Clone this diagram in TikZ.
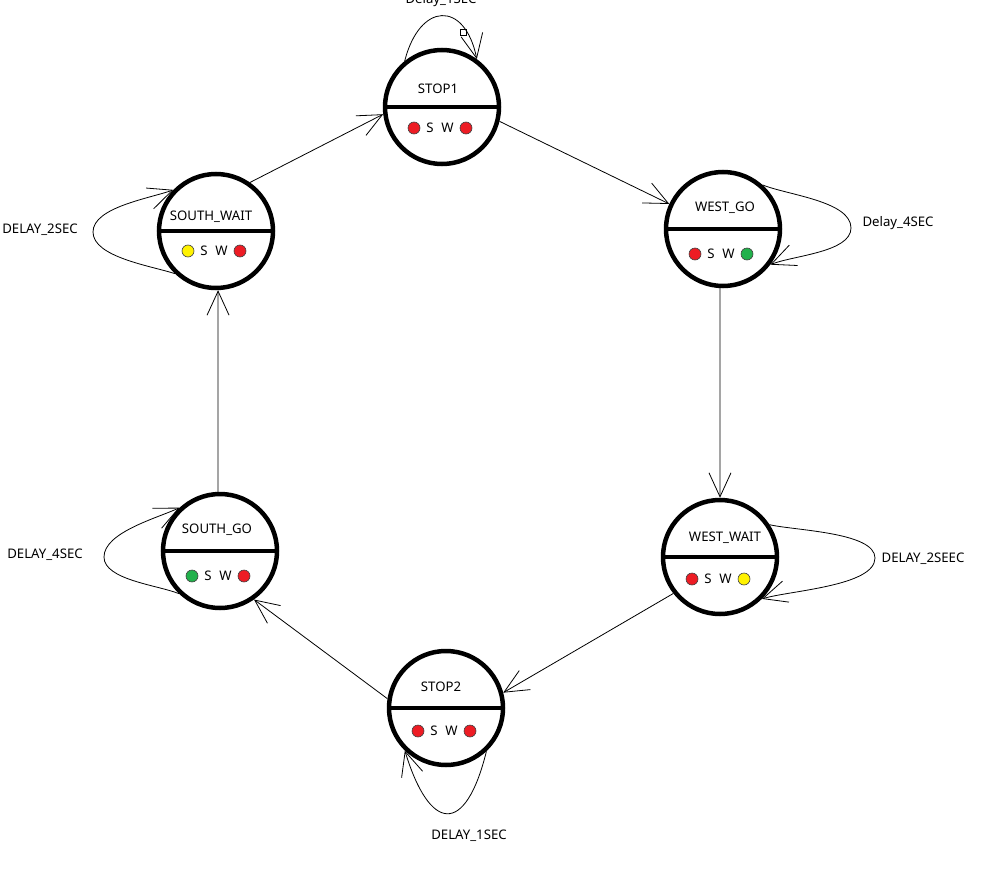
\documentclass[tikz,border=0pt]{standalone}
\usepackage{fontspec}
\setmainfont{Noto Sans}
\usetikzlibrary{arrows.meta}

\definecolor{lampred}{RGB}{237,28,36}
\definecolor{lampgreen}{RGB}{34,177,76}
\definecolor{lampyellow}{RGB}{255,242,0}

\tikzset{
  fsm/.style={circle, draw=black, line width=4.5pt, minimum size=114pt, inner sep=0pt},
  divider/.style={line width=4.5pt},
  txt/.style={font=\fontsize{13.2}{15}\selectfont, inner sep=0pt},
  lamp/.style={circle, draw=black!75, line width=0.6pt, minimum size=12pt, inner sep=0pt},
  trans/.style={line width=0.8pt, -{Straight Barb[length=24pt,width=22pt,line width=0.8pt]}},
}

% one traffic-light state:
% name, x, y, caption, south lamp, west lamp, caption dx, caption dy, lamp row dy
\newcommand\fsmstate[9]{%
  \node[fsm] (#1) at (#2,#3) {};
  \draw[divider] (#1.west) -- (#1.east);
  \node[txt] (#1-name) at ({#2+#7},{#3+#8}) {#4};
  \node[lamp, fill=#5] (#1-s) at ({#2-28},{#3+#9}) {};
  \node[txt] (#1-sl) at ({#2-12},{#3+#9}) {S};
  \node[txt] (#1-wl) at ({#2+5.5},{#3+#9}) {W};
  \node[lamp, fill=#6] (#1-w) at ({#2+24},{#3+#9}) {};
}

\begin{document}
\begin{tikzpicture}[x=1pt,y=-1pt]
  \useasboundingbox (0,0) rectangle (991,870);

  % states
  \fsmstate{s1}{442}{107}{STOP1}{lampred}{lampred}{-4}{-18}{21}
  \fsmstate{wg}{723}{229}{WEST\_GO}{lampred}{lampgreen}{2}{-21}{25}
  \fsmstate{ww}{720}{557}{WEST\_WAIT}{lampred}{lampyellow}{5}{-19}{22}
  \fsmstate{s2}{446}{708}{STOP2}{lampred}{lampred}{-5}{-21}{23}
  \fsmstate{sg}{220}{551}{SOUTH\_GO}{lampgreen}{lampred}{-3}{-21}{25}
  \fsmstate{sw}{216}{231}{SOUTH\_WAIT}{lampyellow}{lampred}{-5}{-14}{20}

  % transitions around the cycle
  \draw[trans] (s1.-14) -- (wg.155);
  \draw[trans] (wg.-93) -- (ww.90);
  \draw[trans] (ww.218) -- (s2.15);
  \draw[trans] (s2.171) -- (sg.-55);
  \draw[trans] (sg.92) -- (sw.-88);
  \draw[trans] (sw.55) -- (s1.187);

  % turning points of the side loops
  \coordinate (wgtip) at (851,228);
  \coordinate (wwtip) at (875,558);
  \coordinate (sgtip) at (104,557);
  \coordinate (swtip) at (93,232);

  % self loops (delays)
  \draw[trans] (s1.129) .. controls +(15,-59) and +(-12,-59) .. (s1.54);
  \draw[trans] (wg.48) to[out=-22, in=90, looseness=0.7] (wgtip)
                       to[out=-90, in=22, looseness=0.7] (wg.-37);
  \draw[trans] (ww.33) to[out=-13, in=90, looseness=0.6] (wwtip)
                       to[out=-90, in=17, looseness=0.6] (ww.-45);
  \draw[trans] (s2.-47) .. controls +(-21,85) and +(25,82) .. (s2.-134);
  \draw[trans] (sg.226) to[out=158, in=-90, looseness=0.7] (sgtip)
                        to[out=90, in=205, looseness=0.7] (sg.133);
  \draw[trans] (sw.226) to[out=162, in=-90, looseness=0.7] (swtip)
                        to[out=90, in=200, looseness=0.7] (sw.136);

  % small square handle on the top loop
  \node[draw, line width=0.6pt, minimum size=6pt, inner sep=0pt] (handle) at (463,32) {};

  % loop labels
  \node[txt, anchor=base] (d1) at (441,3.5) {Delay\_1SEC};
  \node[txt] (d2) at (898,223) {Delay\_4SEC};
  \node[txt] (d3) at (923,559) {DELAY\_2SEEC};
  \node[txt] (d4) at (469,836) {DELAY\_1SEC};
  \node[txt] (d5) at (45,555) {DELAY\_4SEC};
  \node[txt] (d6) at (40,230) {DELAY\_2SEC};
\end{tikzpicture}
\end{document}
